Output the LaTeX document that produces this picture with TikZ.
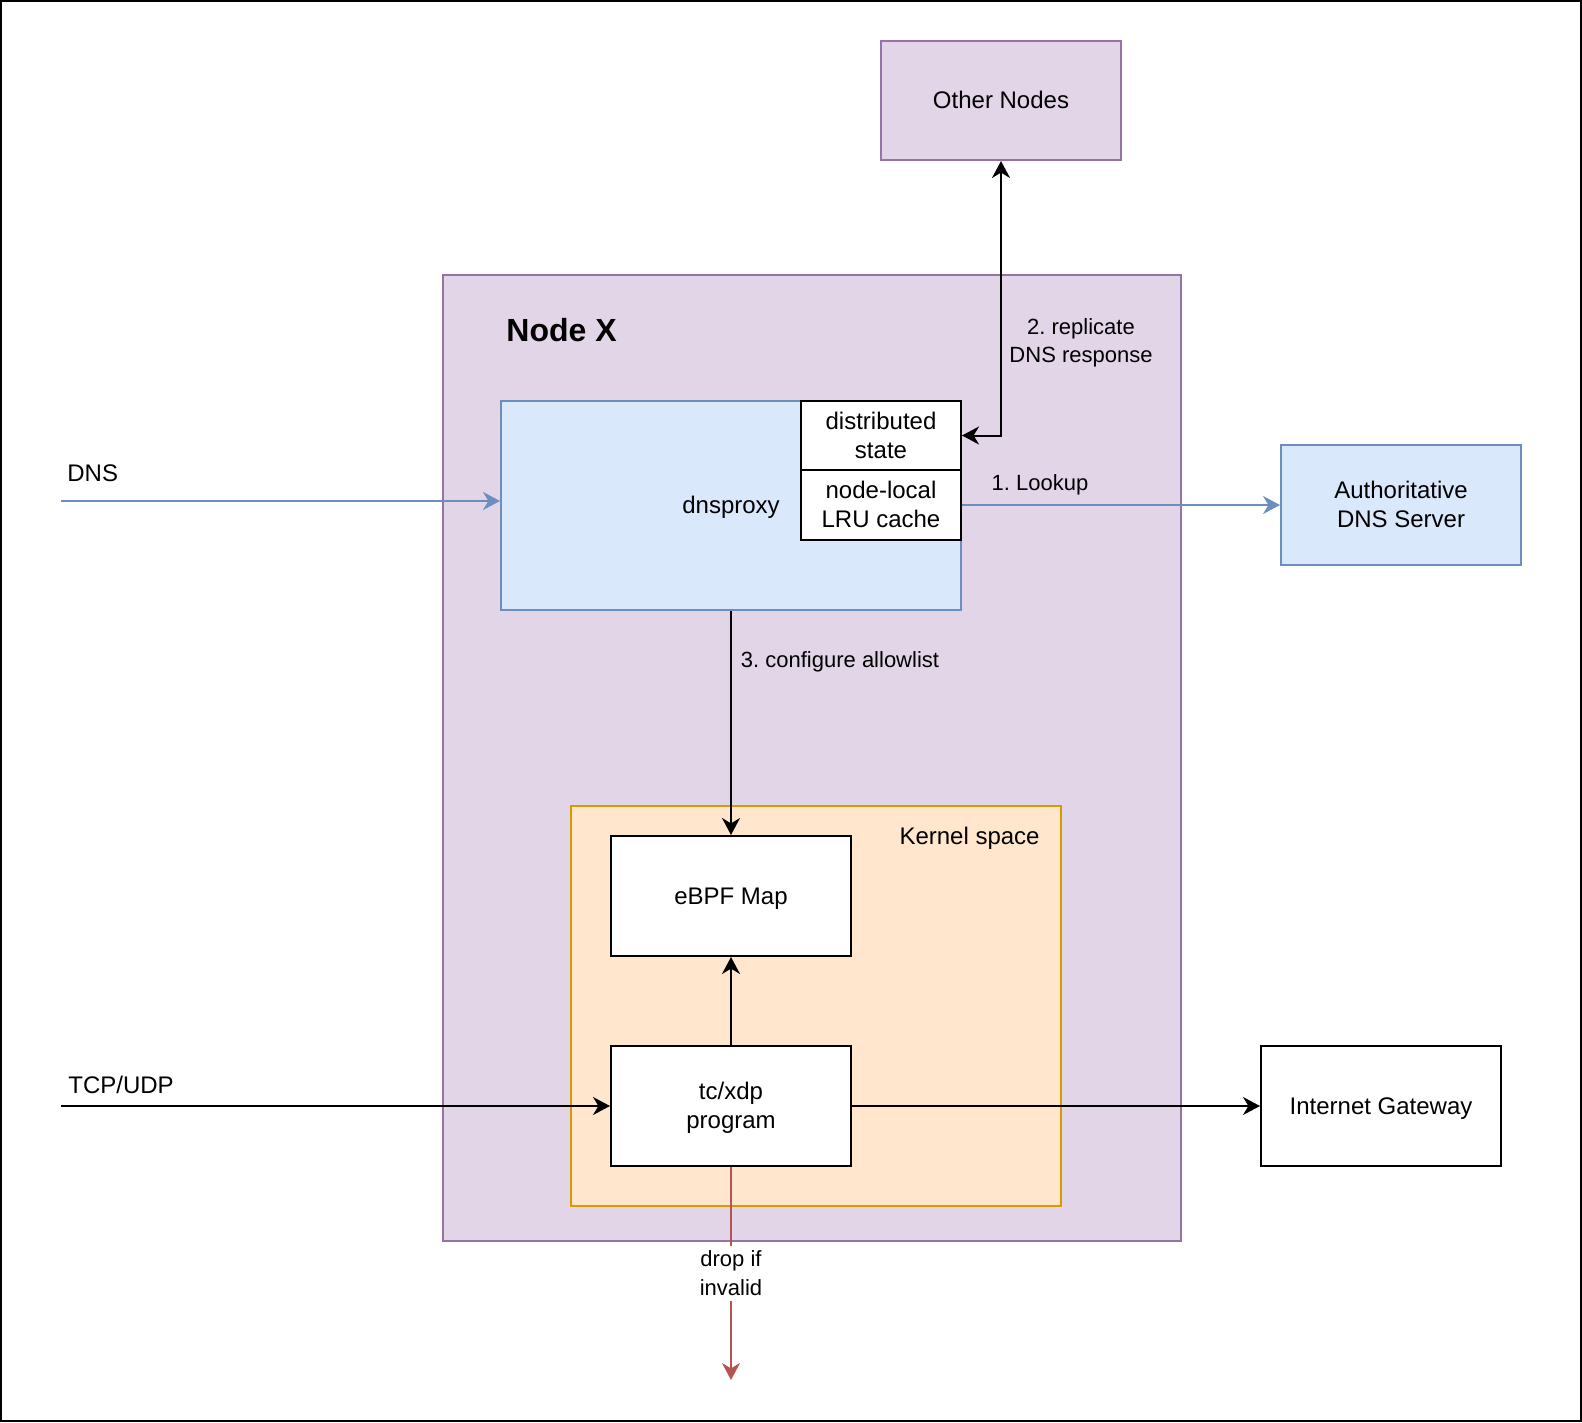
\documentclass[tikz,border=0pt]{standalone}
\usepackage{fontspec}
\setmainfont{Liberation Sans}
\usetikzlibrary{arrows.meta}
\frenchspacing

\definecolor{purpleFill}{HTML}{E1D5E7}
\definecolor{purpleLine}{HTML}{9673A6}
\definecolor{blueFill}{HTML}{DAE8FC}
\definecolor{blueLine}{HTML}{6C8EBF}
\definecolor{orangeFill}{HTML}{FFE6CC}
\definecolor{orangeLine}{HTML}{D79B00}
\definecolor{redLine}{HTML}{B85450}

% strut a la draw.io (boite de ligne de 1.2em)
\newcommand{\lnstrut}{\rule[-0.2535em]{0pt}{1.2em}}

\begin{document}
\begin{tikzpicture}[x=0.5pt, y=-0.5pt, >={Stealth[length=8.5pt, width=9pt, inset=2.7pt]},
    box/.style={draw=black, line width=1pt, fill=white, inner sep=0pt, align=center,
        font=\fontsize{12}{14.6}\selectfont, minimum width=120pt, minimum height=60pt,
        execute at begin node=\lnstrut, text depth=3.04pt},
    lbl/.style={inner sep=0pt, align=center, font=\fontsize{11}{14.2}\selectfont,
        execute at begin node=\lnstrut, text depth=2.79pt},
    flow/.style={line width=1pt, ->}]
        \useasboundingbox (0,0) rectangle (1582,1422);
        \draw[line width=1pt] (1,1) rectangle (1581,1421);

        % --- Other Nodes ---
        \node[box, fill=purpleFill, draw=purpleLine, minimum height=59.5pt] (others) at (1001,100.5) {Other Nodes};

        % --- Node X (container) ---
        \filldraw[fill=purpleFill, draw=purpleLine, line width=1pt] (443,275) rectangle (1181,1241);
        \node[inner sep=0pt, anchor=base west, font=\bfseries\fontsize{16}{19.2}\selectfont] (nodexlbl) at (506,341.5) {Node X};

        % --- Kernel space ---
        \filldraw[fill=orangeFill, draw=orangeLine, line width=1pt] (571,806) rectangle (1061,1206);
        \node[inner sep=0pt, anchor=base east, font=\fontsize{12}{14.4}\selectfont] (kernellbl) at (1040,844) {Kernel space};

        % --- dnsproxy et ses deux sous-boites ---
        \node[box, fill=blueFill, draw=blueLine, minimum width=230pt, minimum height=104.5pt] (dnsproxy) at (731,505.5) {dnsproxy};
        \node[box, minimum width=80pt, minimum height=34.5pt] (dist) at (881,435.5) {\lnstrut distributed\\state};
        \node[box, minimum width=80pt, minimum height=35pt] (lru) at (881,505) {\lnstrut node-local\\LRU cache};

        % --- Serveur DNS, noyau, passerelle ---
        \node[box, fill=blueFill, draw=blueLine] (auth) at (1401,505) {\lnstrut Authoritative\\DNS Server};
        \node[box] (ebpf) at (731,896) {eBPF Map};
        \node[box] (tcxdp) at (731,1106) {\lnstrut tc/xdp\\program};
        \node[box] (gateway) at (1381,1106) {Internet Gateway};

        % Entrees et sortie libres
        \coordinate (dnsin) at (61,501);
        \coordinate (tcpin) at (61,1106);
        \coordinate (dropend) at (731,1380);
        \node[inner sep=0pt, anchor=base west, font=\fontsize{12}{14.4}\selectfont] (dnslbl) at (67,481.5) {DNS};
        \node[inner sep=0pt, anchor=base west, font=\fontsize{12}{14.4}\selectfont] (tcplbl) at (68,1093) {TCP/UDP};

        % --- Connecteurs ---
        \draw[flow, blueLine] (dnsin) -- (dnsin -| dnsproxy.west);
        \draw[flow, blueLine] (lru.east) -- (auth.west);
        \node[lbl, anchor=base] (lookuplbl) at (1040,490) {1. Lookup};

        \draw[line width=1pt, <->] (others.south) |- (dist.east);
        \node[lbl] (replbl) at (1081,341) {\lnstrut 2. replicate\\DNS response};

        \draw[flow] (dnsproxy.south) -- (ebpf.north);
        \node[lbl, anchor=base] (conflbl) at (840,667) {3. configure allowlist};

        \draw[flow] (tcxdp.north) -- (ebpf.south);
        \draw[flow] (tcpin) -- (tcxdp.west);
        \draw[flow] (tcxdp.east) -- (gateway.west);
        \draw[flow, redLine] (tcxdp.south) -- (dropend)
            node[lbl, midway, fill=white, inner sep=0pt, text=black] (droplbl) {\lnstrut drop if\\invalid};
\end{tikzpicture}
\end{document}
